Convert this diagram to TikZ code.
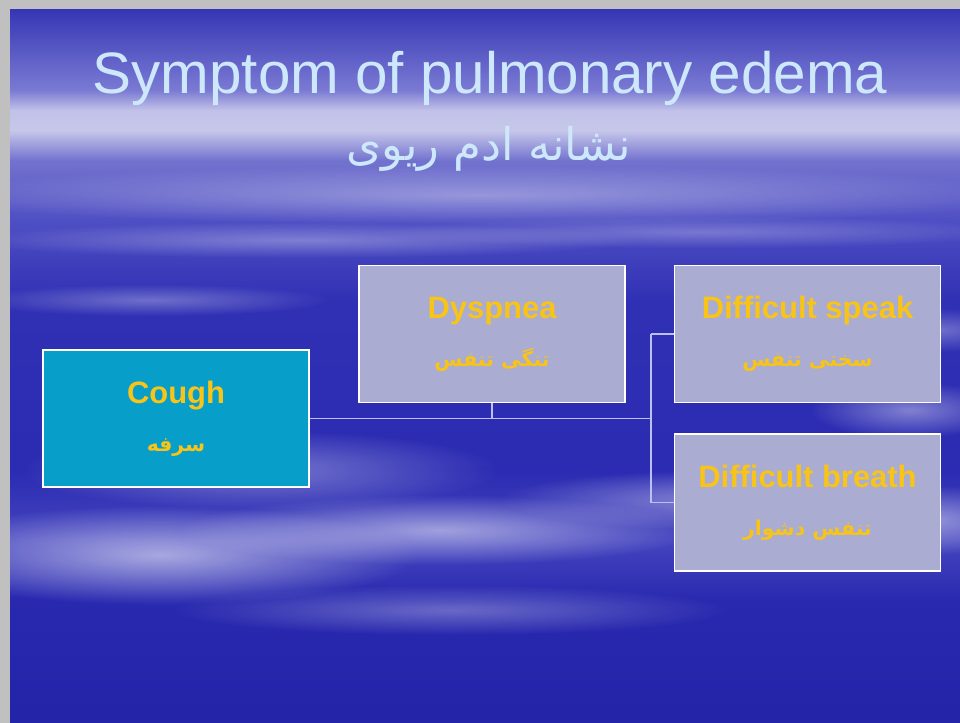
\documentclass[tikz,border=0pt]{standalone}
\usepackage{fontspec}
\setmainfont{Liberation Sans}
\newfontfamily\persianfont[Script=Arabic]{DejaVu Sans}
\TeXXeTstate=1
\usetikzlibrary{fadings}
\definecolor{slidegray}{RGB}{192,192,192}
\definecolor{titleblue}{RGB}{205,232,250}
\definecolor{coughcyan}{RGB}{8,158,202}
\definecolor{boxlilac}{RGB}{170,172,210}
\definecolor{labelgold}{RGB}{248,196,24}
\definecolor{linklilac}{RGB}{188,192,240}
% Degradado vertical del fondo (25bp = abajo, 75bp = arriba)
\pgfdeclareverticalshading{slidesky}{100bp}{rgb(0bp)=(0.14,0.14,0.66); rgb(25bp)=(0.14,0.14,0.66); rgb(33.6bp)=(0.16,0.16,0.69); rgb(37.8bp)=(0.27,0.27,0.75); rgb(42.7bp)=(0.17,0.17,0.70); rgb(54.6bp)=(0.19,0.19,0.71); rgb(60.2bp)=(0.31,0.31,0.77); rgb(64.4bp)=(0.45,0.45,0.81); rgb(66.5bp)=(0.78,0.78,0.92); rgb(67.9bp)=(0.76,0.76,0.91); rgb(69.3bp)=(0.48,0.48,0.83); rgb(75bp)=(0.21,0.21,0.71); rgb(100bp)=(0.21,0.21,0.71)}
\tikzfading[name=softcloud, inner color=transparent!0, outer color=transparent!100]
\newcommand\pertext[1]{{\persianfont\fontsize{14.5}{17}\selectfont\beginR #1\endR}}
\begin{document}
\begin{tikzpicture}[x=0.025cm, y=-0.025cm,
	symptom/.style={draw=white, line width=1.1pt, minimum width=6.65cm, minimum height=3.425cm,
		inner sep=0pt, align=center, text=labelgold, font=\fontsize{22}{26}\selectfont\bfseries},
	firstbox/.style={symptom, fill=coughcyan},
	nextbox/.style={symptom, fill=boxlilac},
	link/.style={draw=linklilac, line width=0.9pt},
	cloud/.style={white, path fading=softcloud}]
	\useasboundingbox (0,0) rectangle (960,723);
	% Marco gris y fondo azul
	\fill[slidegray] (0,0) rectangle (960,723);
	\shade[shading=slidesky] (10,9) rectangle (960,723);
	% Nubes
	\begin{scope}
		\clip (10,9) rectangle (960,723);
		\fill[cloud, opacity=.55] (160,555) ellipse (260 and 50);
		\fill[cloud, opacity=.5] (440,530) ellipse (260 and 35);
		\fill[cloud, opacity=.4] (720,500) ellipse (220 and 30);
		\fill[cloud, opacity=.45] (930,520) ellipse (110 and 35);
		\fill[cloud, opacity=.35] (260,470) ellipse (240 and 40);
		\fill[cloud, opacity=.3] (450,610) ellipse (280 and 25);
		\fill[cloud, opacity=.35] (480,195) ellipse (560 and 30);
		\fill[cloud, opacity=.3] (300,240) ellipse (340 and 18);
		\fill[cloud, opacity=.25] (700,232) ellipse (320 and 16);
		\fill[cloud, opacity=.3] (150,300) ellipse (180 and 16);
		\fill[cloud, opacity=.4] (910,410) ellipse (100 and 28);
		\fill[cloud, opacity=.3] (940,330) ellipse (80 and 22);
	\end{scope}
	% Títulos
	\node[anchor=base, text=titleblue, font=\fontsize{41.5}{50}\selectfont] (title) at (490,93)
		{Symptom of pulmonary edema};
	\node[anchor=base, text=titleblue, font=\persianfont\fontsize{32}{38}\selectfont] (subtitle) at (489,160)
		{\beginR نشانه ادم ریوی\endR};
	% Cajas de síntomas
	\node[firstbox] (cough) at (176,418.5) {Cough\\[8pt]\pertext{سرفه}};
	\node[nextbox] (dyspnea) at (492,334) {Dyspnea\\[8pt]\pertext{تنگی تنفس}};
	\node[nextbox] (speak) at (807.5,334) {Difficult speak\\[8pt]\pertext{سختی تنفس}};
	\node[nextbox] (breath) at (807.5,502.5) {Difficult breath\\[8pt]\pertext{تنفس دشوار}};
	% Conectores
	\coordinate (hub) at (651,418.5);
	\draw[link] (cough.east) -- (hub);
	\draw[link] (dyspnea.south) -- (dyspnea.south |- hub);
	\draw[link] (speak.west -| hub) -- (breath.west -| hub);
	\draw[link] (speak.west -| hub) -- (speak.west);
	\draw[link] (breath.west -| hub) -- (breath.west);
\end{tikzpicture}
\end{document}
